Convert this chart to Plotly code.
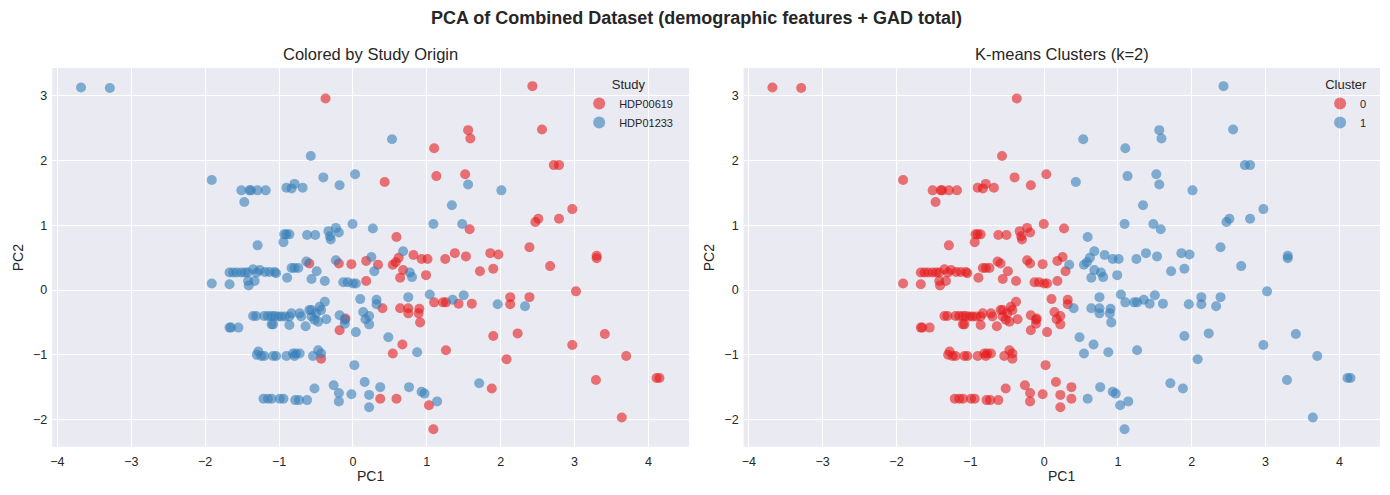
import plotly.graph_objects as go

# ---- Data ----
# Study HDP00619, cluster 0
A0_x = [-0.37, -0.59, -0.19, -0.02, 0.18, 0.18, -0.10, -0.18, -0.43, 0.37]
A0_y = [2.96, 0.41, 0.41, 0.40, 0.45, 0.14, -0.44, -0.62, -1.06, -1.68]
# Study HDP00619, cluster 1
A1_x = [1.10, 1.56, 1.59, 0.43, 1.13, 1.52, 1.58, 0.59, 0.62, 0.82, 0.93, 1.01, 1.25, 1.38, 1.53,
        2.43, 2.56, 2.72, 2.79, 2.97, 2.51, 2.47, 2.79, 2.39, 1.86, 1.97, 3.30, 3.30, 0.34, 0.54,
        0.58, 0.68, 0.64, 0.99, 1.10, 1.22, 1.26, 1.43, 1.61, 0.64, 0.75, 0.75, 0.90, 0.89, 0.91,
        0.40, 0.67, 0.54, 1.26, 0.59, 1.03, 1.09, 1.72, 1.90, 2.67, 3.02, 2.13, 2.13, 2.39, 1.90,
        2.23, 3.41, 2.97, 2.08, 3.70, 1.88, 3.29, 4.11, 4.15, 3.64]
A1_y = [2.19, 2.47, 2.34, 1.67, 1.76, 1.79, 0.94, 0.82, 0.50, 0.54, 0.48, 0.48, 0.48, 0.57, 0.52,
        3.15, 2.48, 1.93, 1.93, 1.25, 1.10, 1.05, 1.10, 0.66, 0.57, 0.55, 0.53, 0.49, 0.39, 0.39,
        0.43, 0.31, 0.19, 0.23, -0.19, -0.19, -0.19, -0.21, -0.21, -0.28, -0.28, -0.36, -0.29, -0.36, -0.50,
        -0.28, -0.84, -0.98, -0.93, -1.68, -1.78, -2.15, 0.29, 0.33, 0.37, -0.02, -0.11, -0.22, -0.11, -0.71,
        -0.67, -0.68, -0.85, -1.07, -1.02, -1.52, -1.39, -1.36, -1.36, -1.97]
# Study HDP01233, cluster 0
B0_x = [-3.68, -3.29, -1.91, -1.51, -1.40, -1.38, -1.29, -1.18, -1.47, -1.29,
        -0.57, -0.40, 0.03, -0.18, -0.90, -0.79, -0.83, -0.68, -0.005, 0.27, -0.93, -0.90, -0.86, -0.94,
        -0.62, -0.51, -0.33, -0.23, -0.19, -0.31, -0.30, 0.25, -0.23, -0.63,
        -1.91, -1.67, -1.67, -1.62, -1.57, -1.51, -1.46, -1.42, -1.35, -1.30, -1.42, -1.33, -1.41, -1.35,
        -1.67, -1.65, -1.55, -1.30, -1.28,
        0.29, -0.13, -0.07, 0.00, 0.04, -0.89, -0.56, -0.49, -0.38, -0.83, -0.79, -0.74, -1.26, -1.19,
        -1.13, -1.06, -1.04,
        0.32, 0.32, 0.10, 0.14, 0.22, 0.17, 0.22, 0.04, -0.18, -0.11, -0.11, 0.02,
        -1.31, -1.20, -1.15, -1.10, -1.06, -1.01, -0.97, -0.92, -0.86, -0.83, -0.72, -0.70, -1.10, -1.08,
        -0.86, -0.64, -0.59, -0.56, -0.56, -0.52, -0.50, -0.47, -0.45, -0.43, -0.38, -0.36,
        -1.24, -1.20, -1.08, -1.04, -0.90, -0.81, -0.77, -0.72, -0.79, -0.54, -0.47, -0.43,
        -1.21, -1.15, -1.10, -0.99, -0.94, -0.78, -0.73, -0.62, -0.52, -0.26, -0.19, -0.19, -0.02, 0.16,
        0.22, 0.22, 0.37]
B0_y = [3.13, 3.12, 1.70, 1.54, 1.54, 1.54, 1.54, 1.54, 1.36, 0.69,
        2.07, 1.74, 1.79, 1.62, 1.58, 1.64, 1.57, 1.58, 1.02, 0.95, 0.86, 0.86, 0.86, 0.74,
        0.85, 0.85, 0.91, 0.96, 0.89, 0.83, 0.78, 0.51, 0.46, 0.44,
        0.10, 0.09, 0.27, 0.27, 0.27, 0.27, 0.27, 0.27, 0.32, 0.27, 0.14, 0.14, 0.07, -0.40,
        -0.58, -0.58, -0.58, -1.00, -0.95,
        0.29, 0.12, 0.12, 0.10, 0.10, 0.19, 0.17, 0.29, 0.14, 0.34, 0.34, 0.34, 0.31, 0.28,
        0.28, 0.28, 0.26,
        -0.15, -0.22, -0.14, -0.34, -0.40, -0.45, -0.53, -0.65, -0.39, -0.46, -0.52, -1.16,
        -0.40, -0.40, -0.40, -0.40, -0.40, -0.41, -0.41, -0.41, -0.41, -0.36, -0.36, -0.41, -0.53, -0.53,
        -0.54, -0.56, -0.31, -0.31, -0.41, -0.46, -0.36, -0.49, -0.26, -0.31, -0.18, -0.45,
        -1.02, -1.02, -1.02, -1.02, -1.02, -0.98, -0.98, -0.98, -1.02, -1.02, -0.93, -0.98,
        -1.68, -1.68, -1.68, -1.68, -1.68, -1.70, -1.70, -1.70, -1.52, -1.47, -1.59, -1.72, -1.61, -1.42,
        -1.62, -1.81, -1.50]
# Study HDP01233, cluster 1
B1_x = [0.53, 1.56, 1.34, 1.09, 1.48, 0.68, 2.01, 0.77, 0.80, 1.04, 1.35, 1.50, 0.75, 0.48, 0.87,
        0.76, 0.93, 0.97, 1.14, 1.96, 2.33, 1.71]
B1_y = [2.33, 1.63, 1.31, 1.02, 1.02, 0.60, 1.54, 0.27, 0.20, -0.07, -0.15, -0.08, -0.11, -0.73, -0.96,
        -1.50, -1.57, -1.60, -1.72, -0.22, -0.25, -1.44]

study_names = ["HDP00619", "HDP01233"]
cluster_names = ["0", "1"]
x_ticks = [-4, -3, -2, -1, 0, 1, 2, 3, 4]
y_ticks = [-2, -1, 0, 1, 2, 3]

RED = "#e41a1c"
BLUE = "#377eb8"
TXT = "#262626"
FONT = "Liberation Sans, Arial, sans-serif"


def sc(x, y, color, name, xa, ya, legend):
    return go.Scatter(
        x=x, y=y, mode="markers", name=name, xaxis=xa, yaxis=ya, legend=legend,
        marker=dict(color=color, size=10, opacity=0.6, line=dict(width=0)),
    )


fig = go.Figure()
fig.add_trace(sc(A0_x + A1_x, A0_y + A1_y, RED, study_names[0], "x", "y", "legend"))
fig.add_trace(sc(B0_x + B1_x, B0_y + B1_y, BLUE, study_names[1], "x", "y", "legend"))
fig.add_trace(sc(A0_x + B0_x, A0_y + B0_y, RED, cluster_names[0], "x2", "y2", "legend2"))
fig.add_trace(sc(A1_x + B1_x, A1_y + B1_y, BLUE, cluster_names[1], "x2", "y2", "legend2"))

W, H = 1390, 495
XR = [-4.07, 4.55]
YR = [-2.42, 3.43]
ydom = [1 - 446.7 / H, 1 - 68 / H]

axis_common = dict(showgrid=True, gridcolor="white", gridwidth=1, zeroline=False, showline=False,
                   ticks="", tickfont=dict(size=12.5, color=TXT, family=FONT))

fig.update_layout(
    width=W, height=H, autosize=False,
    margin=dict(l=0, r=0, t=0, b=0),
    paper_bgcolor="white", plot_bgcolor="#eaeaf2",
    font=dict(family=FONT, color=TXT),
    xaxis=dict(domain=[50.3 / W, 688 / W], range=XR, tickvals=x_ticks, anchor="y",
               ticklabelstandoff=6, **axis_common),
    yaxis=dict(domain=ydom, range=YR, tickvals=y_ticks, anchor="x", ticklabelstandoff=4, **axis_common),
    xaxis2=dict(domain=[742.7 / W, 1380 / W], range=XR, tickvals=x_ticks, anchor="y2",
                ticklabelstandoff=6, **axis_common),
    yaxis2=dict(domain=ydom, range=YR, tickvals=y_ticks, anchor="x2", ticklabelstandoff=4, **axis_common),
    legend=dict(x=578 / W, y=1 - 72 / H, xanchor="left", yanchor="top", bgcolor="rgba(0,0,0,0)",
                font=dict(size=11, color=TXT), title=dict(text="Study", side="top center",
                                                          font=dict(size=13, color=TXT)),
                itemsizing="constant"),
    legend2=dict(x=1320 / W, y=1 - 72 / H, xanchor="left", yanchor="top", bgcolor="rgba(0,0,0,0)",
                 font=dict(size=11, color=TXT), title=dict(text="Cluster", side="top center",
                                                           font=dict(size=13, color=TXT)),
                 itemsizing="constant"),
)

ann = [
    dict(text="<b>PCA of Combined Dataset (demographic features + GAD total)</b>", x=0.5, y=1 - 18 / H,
         font=dict(size=18)),
    dict(text="Colored by Study Origin", x=(50.3 + 688) / 2 / W, y=1 - 54 / H, font=dict(size=16.5)),
    dict(text="K-means Clusters (k=2)", x=(742.7 + 1380) / 2 / W, y=1 - 54 / H, font=dict(size=16.5)),
    dict(text="PC1", x=(50.3 + 688) / 2 / W, y=1 - 476 / H, font=dict(size=14)),
    dict(text="PC1", x=(742.7 + 1380) / 2 / W, y=1 - 476 / H, font=dict(size=14)),
    dict(text="PC2", x=16 / W, y=1 - 257.3 / H, textangle=-90, font=dict(size=14)),
    dict(text="PC2", x=708 / W, y=1 - 257.3 / H, textangle=-90, font=dict(size=14)),
]
for a in ann:
    a.update(xref="paper", yref="paper", showarrow=False, xanchor="center", yanchor="middle")
    a["font"].update(color=TXT, family=FONT)
fig.update_layout(annotations=ann)

fig.write_html("out.html")
